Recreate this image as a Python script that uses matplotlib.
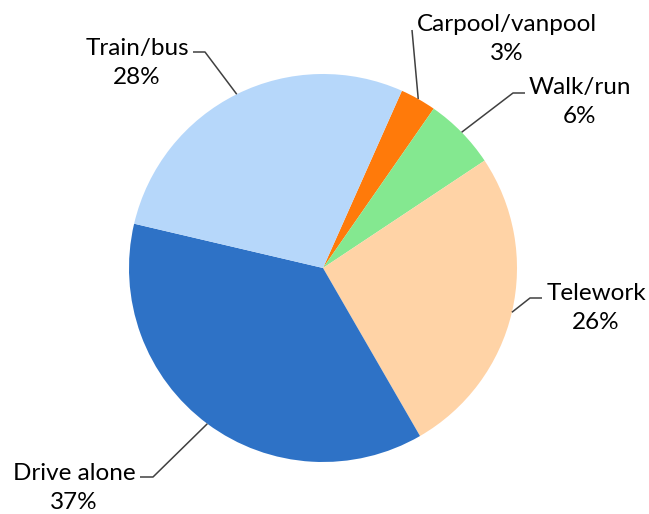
import numpy as np
import matplotlib.pyplot as plt

# commute mode shares (%)
modes = ['Carpool/vanpool', 'Walk/run', 'Telework', 'Drive alone', 'Train/bus']
shares = [3, 6, 26, 37, 28]
colors = ['#FF7A0A', '#84E890', '#FFD3A6', '#2E72C6', '#B6D7FA']

# label layout, in pixels from the top-left corner
label_x = [507, 580, 596, 74, 137]
label_y = [31, 94, 300, 480, 55]
anchors = [(412, 30), (525, 93), (542, 298), (140, 477), (193, 52)]
elbows = [0, -12, -12, 13, 12]

W, H = 649, 514
CX, CY, R = 323, 268, 194


def main():
    plt.rcParams['font.family'] = ['Lato', 'DejaVu Sans']

    fig = plt.figure(figsize=(W / 100, H / 100), dpi=100)
    ax = fig.add_axes([0, 0, 1, 1])

    wedges, _ = ax.pie(shares, colors=colors, startangle=66, counterclock=False,
                       center=(CX, H - CY), radius=R,
                       wedgeprops=dict(linewidth=0))
    ax.set_xlim(0, W)
    ax.set_ylim(0, H)
    ax.set_aspect('equal')
    ax.axis('off')

    for i, w in enumerate(wedges):
        mid = np.deg2rad((w.theta1 + w.theta2) / 2)
        ex = CX + R * np.cos(mid)
        ey = H - CY + R * np.sin(mid)
        axx, ayy = anchors[i]
        ayy = H - ayy
        xs = [ex, axx + elbows[i], axx]
        ys = [ey, ayy, ayy]
        ax.plot(xs, ys, color='#404040', lw=1.1, solid_capstyle='butt')

        ax.text(label_x[i], H - label_y[i], modes[i], ha='center', va='baseline',
                fontsize=17.5, color='black')
        ax.text(label_x[i], H - label_y[i] - 29, '{}%'.format(shares[i]),
                ha='center', va='baseline', fontsize=17.5, color='black')

    fig.savefig('out.png', dpi=100, facecolor='white')


if __name__ == '__main__':
    main()
